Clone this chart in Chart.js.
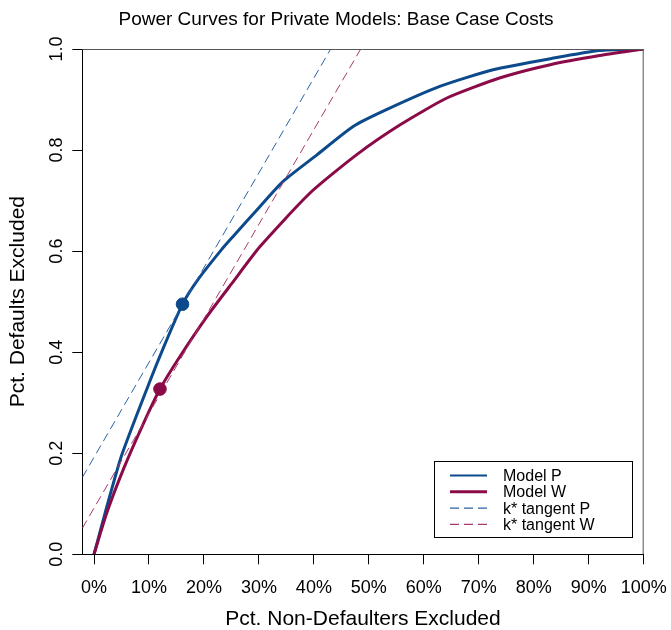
<!DOCTYPE html>
<html>
<head>
<meta charset="utf-8">
<script src="https://cdn.jsdelivr.net/npm/chart.js@4/dist/chart.umd.min.js"></script>
<style>
  html, body { margin: 0; padding: 0; background: #ffffff; }
  #wrap { width: 671px; height: 630px; }
</style>
</head>
<body>
<div id="wrap"><canvas id="c" width="671" height="630"></canvas></div>
<script>
// Power curve of model P: share of non-defaulters excluded vs share of defaults excluded
const modelPX = [0, 0.020, 0.050, 0.100, 0.126, 0.161, 0.190, 0.232, 0.253, 0.300, 0.344, 0.405, 0.472, 0.532, 0.629, 0.726, 0.836, 0.920, 1.0];
const modelPY = [0, 0.081, 0.195, 0.338, 0.408, 0.495, 0.545, 0.603, 0.629, 0.686, 0.738, 0.790, 0.847, 0.880, 0.926, 0.959, 0.982, 0.997, 1.0];

// Power curve of model W
const modelWX = [0, 0.023, 0.053, 0.090, 0.120, 0.156, 0.205, 0.250, 0.302, 0.393, 0.478, 0.557, 0.642, 0.739, 0.830, 0.920, 1.0];
const modelWY = [0, 0.081, 0.167, 0.259, 0.327, 0.391, 0.470, 0.535, 0.609, 0.715, 0.791, 0.850, 0.903, 0.943, 0.969, 0.987, 1.0];

// Optimal cut-off k* on each curve
const kStarP = [0.161, 0.495];
const kStarW = [0.120, 0.327];

// Tangent lines at k* (end points on the plot frame)
const tangentPX = [-0.0213, 0.4306];
const tangentPY = [0.152, 1.0];
const tangentWX = [-0.0213, 0.4852];
const tangentWY = [0.0515, 1.0];

// Axis ticks
const xTickValues = [0, 0.1, 0.2, 0.3, 0.4, 0.5, 0.6, 0.7, 0.8, 0.9, 1.0];
const xTickLabels = ['0%', '10%', '20%', '30%', '40%', '50%', '60%', '70%', '80%', '90%', '100%'];
const yTickValues = [0, 0.2, 0.4, 0.6, 0.8, 1.0];
const yTickLabels = ['0.0', '0.2', '0.4', '0.6', '0.8', '1.0'];

const BLUE = '#0d4a8b';
const MAROON = '#8a0b48';
const BLUE_DASH = '#2c62a6';
const MAROON_DASH = '#a83a6e';
const FONT = "'Liberation Sans', Arial, Helvetica, sans-serif";

const toPoints = (xs, ys) => xs.map((x, i) => ({ x: x, y: ys[i] }));

// Frame, rotated y tick labels and legend box
const decorations = {
  id: 'decorations',
  afterDraw(chart) {
    const { ctx, chartArea: a, scales } = chart;
    ctx.save();
    // top and right sides of the frame
    ctx.strokeStyle = '#555555';
    ctx.lineWidth = 1;
    ctx.beginPath();
    ctx.moveTo(a.left, a.top + 0.5);
    ctx.lineTo(a.right - 0.5, a.top + 0.5);
    ctx.lineTo(a.right - 0.5, a.bottom);
    ctx.stroke();

    // y tick labels, written along the axis
    ctx.fillStyle = '#000000';
    ctx.font = '18px ' + FONT;
    ctx.textAlign = 'center';
    ctx.textBaseline = 'middle';
    yTickValues.forEach((v, i) => {
      const py = scales.y.getPixelForValue(v);
      ctx.save();
      ctx.translate(57, py);
      ctx.rotate(-Math.PI / 2);
      ctx.fillText(yTickLabels[i], 0, 0);
      ctx.restore();
    });

    // legend
    const bx = 434.5, by = 461.5, bw = 198, bh = 76;
    ctx.fillStyle = '#ffffff';
    ctx.fillRect(bx, by, bw, bh);
    ctx.strokeStyle = '#000000';
    ctx.lineWidth = 1;
    ctx.strokeRect(bx, by, bw, bh);
    ctx.font = '16px ' + FONT;
    ctx.textAlign = 'left';
    ctx.textBaseline = 'middle';
    const rows = chart.data.datasets.filter(d => d.inLegend);
    rows.sort((p, q) => p.legendRank - q.legendRank);
    rows.forEach((d, i) => {
      const ry = by + 14 + i * 16.3;
      ctx.strokeStyle = d.borderColor;
      ctx.lineWidth = d.legendWidth;
      ctx.setLineDash(d.borderDash || []);
      ctx.beginPath();
      ctx.moveTo(450, ry);
      ctx.lineTo(487, ry);
      ctx.stroke();
      ctx.setLineDash([]);
      ctx.fillStyle = '#000000';
      ctx.fillText(d.label, 503, ry + 1);
    });
    ctx.restore();
  }
};

new Chart(document.getElementById('c'), {
  type: 'scatter',
  data: {
    datasets: [
      {
        label: 'k* P', data: [{ x: kStarP[0], y: kStarP[1] }],
        backgroundColor: BLUE, borderColor: BLUE, pointRadius: 6.3, pointHoverRadius: 6.3, order: 0
      },
      {
        label: 'k* W', data: [{ x: kStarW[0], y: kStarW[1] }],
        backgroundColor: MAROON, borderColor: MAROON, pointRadius: 6.3, pointHoverRadius: 6.3, order: 0
      },
      {
        label: 'k* tangent P', data: toPoints(tangentPX, tangentPY), showLine: true,
        borderColor: BLUE_DASH, borderWidth: 1, borderDash: [9, 5], pointRadius: 0,
        inLegend: true, legendRank: 2, legendWidth: 1.3, order: 1
      },
      {
        label: 'k* tangent W', data: toPoints(tangentWX, tangentWY), showLine: true,
        borderColor: MAROON_DASH, borderWidth: 1, borderDash: [9, 5], pointRadius: 0,
        inLegend: true, legendRank: 3, legendWidth: 1.3, order: 1
      },
      {
        label: 'Model W', data: toPoints(modelWX, modelWY), showLine: true,
        borderColor: MAROON, borderWidth: 3, pointRadius: 0, tension: 0.2,
        inLegend: true, legendRank: 1, legendWidth: 3, order: 2
      },
      {
        label: 'Model P', data: toPoints(modelPX, modelPY), showLine: true,
        borderColor: BLUE, borderWidth: 3, pointRadius: 0, tension: 0.2,
        inLegend: true, legendRank: 0, legendWidth: 2, order: 3
      }
    ]
  },
  options: {
    responsive: false,
    animation: false,
    devicePixelRatio: 1,
    layout: { padding: { top: 0, right: 27.3, bottom: 0, left: 28.3 } },
    plugins: {
      legend: { display: false },
      tooltip: { enabled: false },
      title: {
        display: true,
        text: 'Power Curves for Private Models: Base Case Costs',
        color: '#000000',
        font: { family: FONT, size: 19, weight: 'normal' },
        padding: { top: 8, bottom: 18.2 }
      }
    },
    scales: {
      x: {
        type: 'linear',
        min: -0.0213,
        max: 1.0,
        afterBuildTicks: s => { s.ticks = xTickValues.map(v => ({ value: v })); },
        afterFit: s => { s.height = 75.7; s.paddingLeft = 0; s.paddingRight = 0; },
        ticks: {
          callback: (v, i) => xTickLabels[i],
          color: '#000000',
          font: { family: FONT, size: 18 },
          padding: 13,
          maxRotation: 0,
          autoSkip: false
        },
        grid: { drawOnChartArea: false, drawTicks: true, tickLength: 10, color: '#000000', lineWidth: 1 },
        border: { display: true, color: '#000000', width: 1 },
        title: {
          display: true,
          text: 'Pct. Non-Defaulters Excluded',
          color: '#000000',
          font: { family: FONT, size: 21, lineHeight: 1.0 },
          padding: { top: 0, bottom: 0 }
        }
      },
      y: {
        type: 'linear',
        min: 0,
        max: 1.0,
        afterBuildTicks: s => { s.ticks = yTickValues.map(v => ({ value: v })); },
        afterFit: s => { s.width = 54; },
        ticks: { display: false },
        grid: { drawOnChartArea: false, drawTicks: true, tickLength: 10, color: '#000000', lineWidth: 1 },
        border: { display: true, color: '#000000', width: 1 },
        title: {
          display: true,
          text: 'Pct. Defaults Excluded',
          color: '#000000',
          font: { family: FONT, size: 21, lineHeight: 1.0 },
          padding: { top: -20.8, bottom: 0 }
        }
      }
    }
  },
  plugins: [decorations]
});
</script>
</body>
</html>
